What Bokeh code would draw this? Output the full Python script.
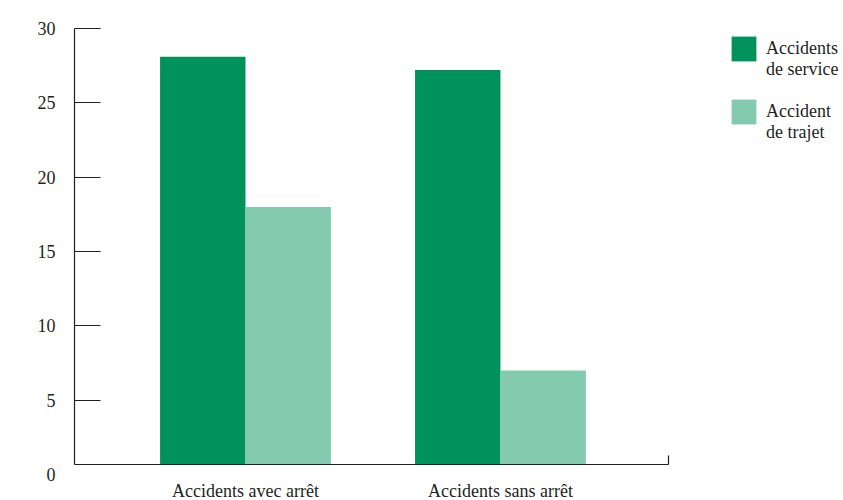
from bokeh.plotting import figure
from bokeh.models import (Range1d, FixedTicker, Legend, LegendItem, Label,
                          LinearAxis, ColumnDataSource)
from bokeh.embed import file_html
from bokeh.resources import INLINE

categories = ["Accidents avec arrêt", "Accidents sans arrêt"]
service = [28.1, 27.2]
trajet = [18, 7]
series_names = ["Accidents\nde service", "Accident\nde trajet"]
y_ticks = [5, 10, 15, 20, 25, 30]

DARK = "#00925C"
LIGHT = "#83CAAF"
INK = "#231F20"
FONT = "Liberation Serif"

xs = list(range(len(categories)))
bw = 0.335

p = figure(frame_width=594, frame_height=436, output_backend="svg",
           toolbar_location=None, x_axis_type=None, y_axis_type=None,
           min_border_left=74, min_border_top=28, min_border_right=175,
           min_border_bottom=34, outline_line_color=None)
p.x_range = Range1d(-0.6706, 1.659)
p.y_range = Range1d(0.67, 30)
p.xgrid.visible = False
p.ygrid.visible = False
p.background_fill_color = None
p.border_fill_color = None

src1 = ColumnDataSource(dict(x=[x - bw / 2 for x in xs], top=service))
src2 = ColumnDataSource(dict(x=[x + bw / 2 for x in xs], top=trajet))
r1 = p.vbar(x="x", top="top", bottom=0, width=bw, source=src1,
            fill_color=DARK, line_color=None)
r2 = p.vbar(x="x", top="top", bottom=0, width=bw, source=src2,
            fill_color=LIGHT, line_color=None)

yax = LinearAxis(ticker=FixedTicker(ticks=y_ticks, minor_ticks=[]))
yax.major_tick_in = 26
yax.major_tick_out = 0
yax.minor_tick_in = 0
yax.minor_tick_out = 0
yax.major_label_standoff = 19
yax.major_label_text_font = FONT
yax.major_label_text_font_size = "18px"
yax.major_label_text_color = INK
yax.axis_line_color = INK
yax.major_tick_line_color = INK
yax.axis_line_width = 1.2
yax.major_tick_line_width = 1.2
p.add_layout(yax, "left")

xax = LinearAxis(ticker=FixedTicker(ticks=xs, minor_ticks=[1.658]))
xax.major_label_overrides = {i: c for i, c in zip(xs, categories)}
xax.major_tick_in = 0
xax.major_tick_out = 0
xax.minor_tick_in = 9
xax.minor_tick_out = 0
xax.major_label_standoff = 16
xax.major_label_text_font = FONT
xax.major_label_text_font_size = "18px"
xax.major_label_text_color = INK
xax.axis_line_color = INK
xax.minor_tick_line_color = INK
xax.axis_line_width = 1.2
xax.minor_tick_line_width = 1.2
p.add_layout(xax, "below")

zero = Label(x=p.x_range.start, y=0, x_offset=-19, text="0",
             text_align="right", text_baseline="middle",
             text_font=FONT, text_font_size="18px", text_color=INK)
p.add_layout(zero, "left")

legend = Legend(items=[LegendItem(label="\n" + series_names[0], renderers=[r1]),
                       LegendItem(label="\n" + series_names[1], renderers=[r2])],
                location=(60, 321), orientation="vertical",
                glyph_width=31, glyph_height=31, label_standoff=7,
                spacing=0, padding=0, margin=0,
                border_line_color=None, background_fill_alpha=0,
                label_text_font=FONT, label_text_font_size="18px",
                label_text_color=INK)
p.add_layout(legend, "right")

open("out.html", "w").write(file_html(p, INLINE))
